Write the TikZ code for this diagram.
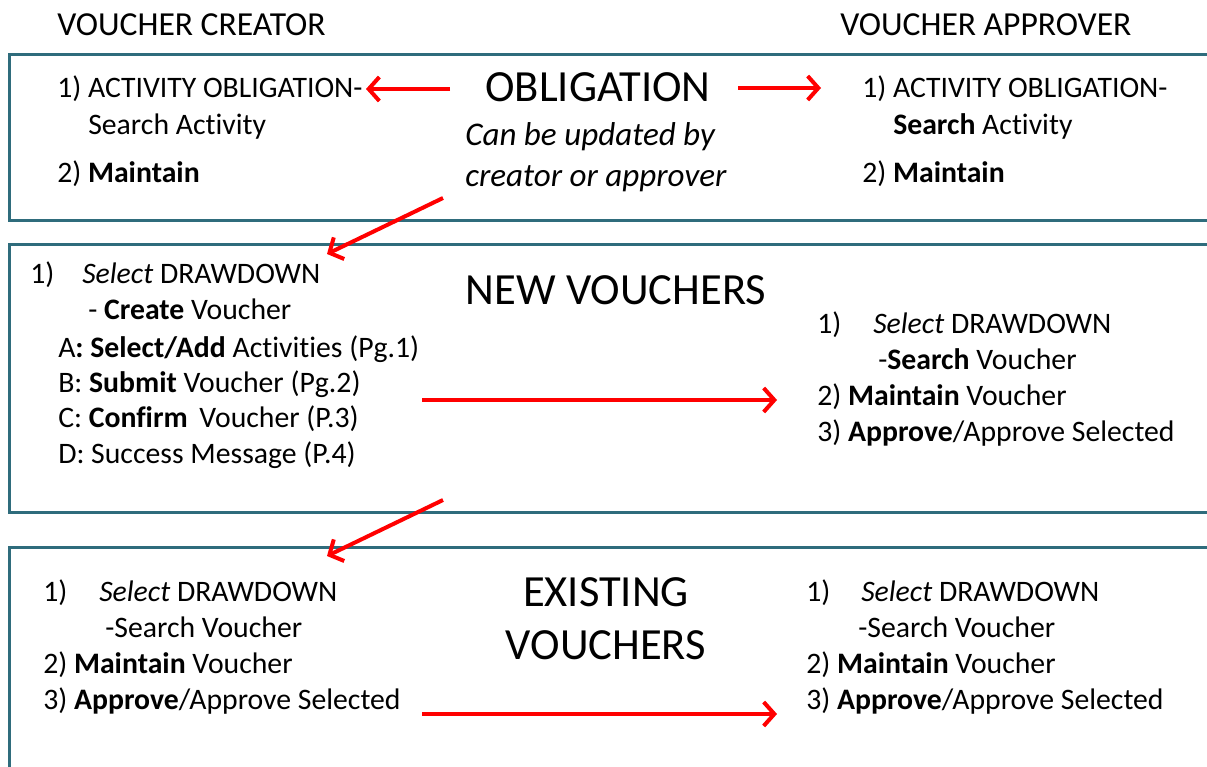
\documentclass[tikz,border=0pt]{standalone}
\usepackage{fontspec}
\setmainfont{Carlito}[Ligatures=NoCommon]
\usetikzlibrary{arrows.meta}
\definecolor{frame}{RGB}{47,108,124}
\definecolor{flow}{RGB}{255,0,0}
\tikzset{
  panel/.style={draw=frame, line width=2.25pt},
  body/.style={anchor=base west, inner sep=0pt, font=\fontsize{22.3}{27}\selectfont},
  colhead/.style={anchor=base west, inner sep=0pt, font=\fontsize{25.2}{30}\selectfont},
  heading/.style={anchor=base, inner sep=0pt, font=\fontsize{33.4}{40}\selectfont},
  note/.style={anchor=base west, inner sep=0pt, font=\fontsize{24.8}{30}\selectfont\itshape},
  flowarrow/.style={draw=flow, line width=3pt, -{Straight Barb[length=8pt,width=18pt,line width=3pt]}},
}
\begin{document}
\begin{tikzpicture}[x=0.75pt, y=-0.75pt]
  \useasboundingbox (0,0) rectangle (1207,767);
  \clip (0,0) rectangle (1207,767);

  % column headings
  \node[colhead] (hcreator)  at (57,36)  {VOUCHER CREATOR};
  \node[colhead] (happrover) at (840,36) {VOUCHER APPROVER};

  % the three stage panels (open to the right)
  \draw[panel] (9,55)  rectangle (1240,220);
  \draw[panel] (9,244) rectangle (1240,512);
  \draw[panel] (9,547) rectangle (1240,800);

  % ---------- OBLIGATION ----------
  \node[heading] (obltitle) at (598,102) {OBLIGATION};
  \node[note] (oblnoteA) at (465,146) {Can be updated by};
  \node[note] (oblnoteB) at (465,186) {creator or approver};

  \node[body] (oc1) at (57,98)  {1) ACTIVITY OBLIGATION-};
  \node[body] (oc2) at (88,134) {Search Activity};
  \node[body] (oc3) at (57,182) {2) \textbf{Maintain}};

  \node[body] (oa1) at (862,98)  {1) ACTIVITY OBLIGATION-};
  \node[body] (oa2) at (893,134) {\textbf{Search} Activity};
  \node[body] (oa3) at (862,182) {2) \textbf{Maintain}};

  % ---------- NEW VOUCHERS ----------
  \node[heading] (newtitle) at (616,304) {NEW VOUCHERS};

  \node[body] (nc1n) at (30,283)  {1)};
  \node[body] (nc1)  at (82,283)  {\textit{Select} DRAWDOWN};
  \node[body] (nc2)  at (88,319)  {- \textbf{Create} Voucher};
  \node[body] (nc3)  at (58,357)  {A\textbf{: Select/Add} Activities (Pg.1)};
  \node[body] (nc4)  at (58,392)  {B: \textbf{Submit} Voucher (Pg.2)};
  \node[body] (nc5)  at (58,427)  {C: \textbf{Confirm}\, Voucher (P.3)};
  \node[body] (nc6)  at (58,463)  {D: Success Message (P.4)};

  \node[body] (na1n) at (817,333) {1)};
  \node[body] (na1)  at (873,333) {\textit{Select} DRAWDOWN};
  \node[body] (na2)  at (878,369) {-\textbf{Search} Voucher};
  \node[body] (na3)  at (817,405) {2) \textbf{Maintain} Voucher};
  \node[body] (na4)  at (817,441) {3) \textbf{Approve}/Approve Selected};

  % ---------- EXISTING VOUCHERS ----------
  \node[heading] (exttitleA) at (606,606) {EXISTING};
  \node[heading] (exttitleB) at (606,659) {VOUCHERS};

  \node[body] (ec1n) at (43,601)  {1)};
  \node[body] (ec1)  at (99,601)  {\textit{Select} DRAWDOWN};
  \node[body] (ec2)  at (105,637) {-Search Voucher};
  \node[body] (ec3)  at (43,673)  {2) \textbf{Maintain} Voucher};
  \node[body] (ec4)  at (43,709)  {3) \textbf{Approve}/Approve Selected};

  \node[body] (ea1n) at (806,601) {1)};
  \node[body] (ea1)  at (861,601) {\textit{Select} DRAWDOWN};
  \node[body] (ea2)  at (858,637) {-Search Voucher};
  \node[body] (ea3)  at (806,673) {2) \textbf{Maintain} Voucher};
  \node[body] (ea4)  at (806,709) {3) \textbf{Approve}/Approve Selected};

  % ---------- flow arrows ----------
  \coordinate (oblL0) at (450,89);  \coordinate (oblL1) at (366,89);
  \coordinate (oblR0) at (738,88);  \coordinate (oblR1) at (821,88);
  \coordinate (down1a) at (443,198); \coordinate (down1b) at (327,254);
  \coordinate (new0) at (422,400);  \coordinate (new1) at (777,400);
  \coordinate (down2a) at (443,500); \coordinate (down2b) at (327,556);
  \coordinate (ext0) at (422,714);  \coordinate (ext1) at (777,714);

  \draw[flowarrow] (oblL0) -- (oblL1);
  \draw[flowarrow] (oblR0) -- (oblR1);
  \draw[flowarrow] (down1a) -- (down1b);
  \draw[flowarrow] (new0) -- (new1);
  \draw[flowarrow] (down2a) -- (down2b);
  \draw[flowarrow] (ext0) -- (ext1);
\end{tikzpicture}
\end{document}
